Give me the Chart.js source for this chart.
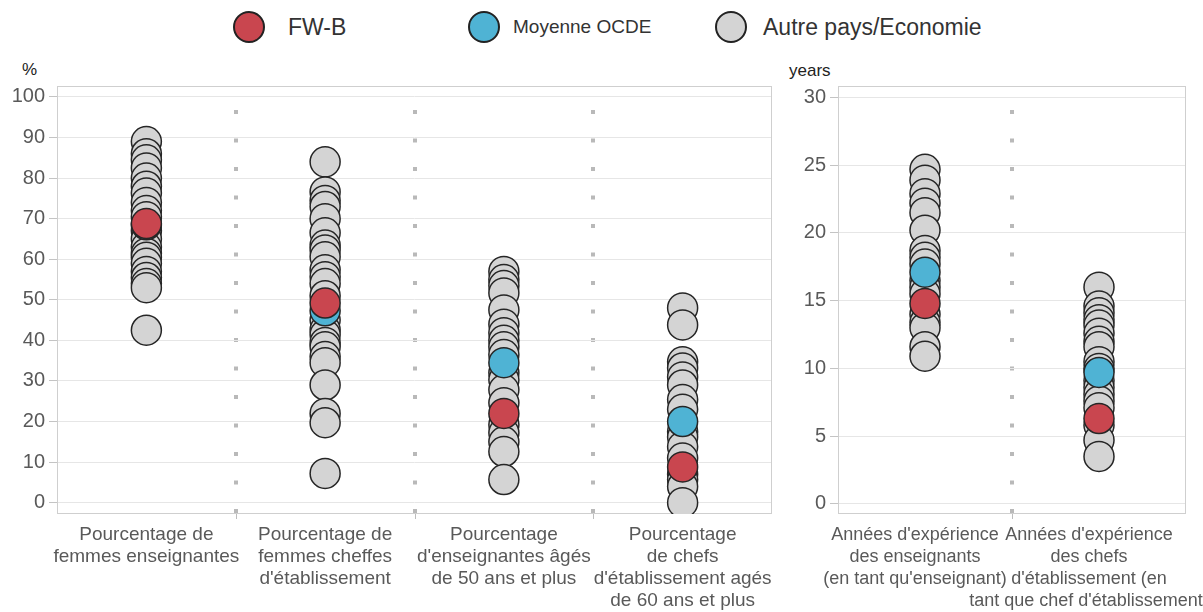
<!DOCTYPE html>
<html>
<head>
<meta charset="utf-8">
<script src="https://cdn.jsdelivr.net/npm/chart.js@4.4.1/dist/chart.umd.min.js"></script>
<style>
    body { margin: 0; background: #fff; width: 1203px; height: 612px; overflow: hidden; position: relative; font-family: 'Liberation Sans', Arial, sans-serif; }
    canvas { position: absolute; top: 0; }
    #leftChart { left: 0; }
    #rightChart { left: 780px; }
    .dot { position: absolute; top: 11px; width: 32px; height: 32px; border-radius: 50%; border: 2px solid #222; box-sizing: border-box; }
    .leg { position: absolute; top: 14px; line-height: 26px; color: #333; white-space: nowrap; }
    .unit { position: absolute; font-size: 17px; color: #222; }
</style>
</head>
<body>
<div class="dot" style="left:233px; background:#c9464f;"></div>
<div class="leg" style="left:288px; font-size:23px;">FW-B</div>
<div class="dot" style="left:468px; background:#4fb3d4;"></div>
<div class="leg" style="left:513px; font-size:19px;">Moyenne OCDE</div>
<div class="dot" style="left:715px; background:#d4d4d4;"></div>
<div class="leg" style="left:763px; font-size:23px;">Autre pays/Economie</div>

<div class="unit" style="left:22px; top:60px;">%</div>
<div class="unit" style="left:789px; top:61px;">years</div>

<canvas id="leftChart" width="790" height="612"></canvas>
<canvas id="rightChart" width="423" height="612"></canvas>

<script>
// Categories
const catsLeft = [
    ['Pourcentage de', 'femmes enseignantes'],
    ['Pourcentage de', 'femmes cheffes', "d'établissement"],
    ['Pourcentage', "d'enseignantes âgés", 'de 50 ans et plus'],
    ['Pourcentage', 'de chefs', "d'établissement agés", 'de 60 ans et plus']
];
const catsRight = [
    ["Années d'expérience", 'des enseignants', "(en tant qu'enseignant)"],
    ["Années d'expérience", 'des chefs', "d'établissement (en", "tant que chef d'établissement)"]
];
const yTicksLeft = [0, 10, 20, 30, 40, 50, 60, 70, 80, 90, 100];
const yTicksRight = [0, 5, 10, 15, 20, 25, 30];

// FW-B
const fwbLeft = [68.8, 49.2, 22, 8.8];
const fwbRight = [14.8, 6.3];

// Moyenne OCDE
const ocdeLeft = [68.5, 47.3, 34.5, 20];
const ocdeRight = [17.1, 9.7];

// Autre pays/Economie (one list per category)
const autresFemmesEns = [89, 86, 84.5, 82.5, 80, 78, 76.3, 74, 72, 70.5, 67, 65, 63, 61.5, 60.5, 59, 57, 55.5, 54, 53, 42.5];
const autresFemmesChefs = [84, 76.6, 74.5, 73, 70, 66.5, 63.5, 62.3, 60.6, 57.4, 55.7, 54, 51, 45, 42.6, 41.4, 39.5, 38.4, 36, 34.5, 29, 22, 19.7, 7.2];
const autresEns50 = [57, 55, 53.5, 51.7, 47.5, 44, 41.9, 40, 38.4, 36.5, 32, 30.3, 27.8, 24.6, 19.2, 17.2, 15, 12.6, 5.7];
const autresChefs60 = [48, 43.8, 34.7, 33.2, 31, 29, 25.4, 23, 17.5, 16.2, 13.8, 11, 7, 5.7, 4, 0];
const autresExpEns = [24.7, 23.9, 22.9, 22.2, 21.5, 20.2, 18.7, 18.2, 17.7, 16.5, 16, 15.5, 14, 13.4, 13, 11.6, 10.9];
const autresExpChefs = [16, 14.6, 14.1, 13.6, 13.2, 12.6, 12, 11.6, 10.5, 10, 9.1, 8.6, 8.1, 7.6, 7.1, 5.8, 4.7, 3.5];

const RED = '#c9464f';
const BLUE = '#4fb3d4';
const GREY = '#d4d4d4';
const FONT = "'Liberation Sans', Arial, sans-serif";

// light frame round the plot area + small ticks under the category separators
const framePlugin = {
    id: 'frame',
    beforeDatasetsDraw(chart) {
        const a = chart.chartArea;
        const ctx = chart.ctx;
        const x = chart.scales.x;
        ctx.save();
        ctx.strokeStyle = '#cfcfcf';
        ctx.lineWidth = 1;
        ctx.strokeRect(a.left + 0.5, a.top + 0.5, a.right - a.left - 1, a.bottom - a.top - 1);
        ctx.strokeStyle = '#bdbdbd';
        ctx.beginPath();
        for (let i = 1; i < x.ticks.length; i++) {
            const px = Math.round((x.getPixelForTick(i - 1) + x.getPixelForTick(i)) / 2) + 0.5;
            ctx.moveTo(px, a.bottom);
            ctx.lineTo(px, a.bottom + 5);
        }
        ctx.stroke();
        ctx.restore();
    }
};

function pointSet(label, data, color) {
    return {
        label: label,
        data: data,
        showLine: false,
        pointRadius: 15,
        pointBorderWidth: 1.5,
        pointBorderColor: '#262626',
        pointBackgroundColor: color,
        backgroundColor: color
    };
}

function makeChart(id, cats, fwb, ocde, autres, yTicks, yMin, yMax, yWidth, padRight, xFontSize, xLabelOffset) {
    const nCats = cats.length;
    const autrePts = [];
    autres.forEach((vals, i) => vals.forEach(v => autrePts.push({ x: cats[i], y: v })));

    return new Chart(document.getElementById(id), {
        type: 'line',
        data: {
            labels: cats,
            datasets: [
                pointSet('FW-B', cats.map((c, i) => ({ x: c, y: fwb[i] })), RED),
                pointSet('Moyenne OCDE', cats.map((c, i) => ({ x: c, y: ocde[i] })), BLUE),
                pointSet('Autre pays/Economie', autrePts, GREY)
            ]
        },
        options: {
            responsive: false,
            animation: false,
            events: [],
            layout: { padding: { top: 86, right: padRight, left: 0, bottom: 0 } },
            plugins: { legend: { display: false }, tooltip: { enabled: false } },
            scales: {
                x: {
                    type: 'category',
                    offset: true,
                    grid: {
                        offset: true,
                        color: (c) => (c.type === 'tick' && c.index > 0 && c.index < nCats) ? '#b9b9b9' : 'rgba(0,0,0,0)',
                        lineWidth: 4,
                        tickLength: 5,
                        tickColor: 'rgba(0,0,0,0)'
                    },
                    border: { display: false, dash: [4, 24.5], dashOffset: 4.5 },
                    ticks: {
                        autoSkip: false,
                        maxRotation: 0,
                        minRotation: 0,
                        padding: 5,
                        labelOffset: xLabelOffset,
                        color: '#595959',
                        font: { family: FONT, size: xFontSize, lineHeight: '22px' }
                    },
                    afterFit(s) { s.height = 98; s.paddingLeft = 0; s.paddingRight = 0; }
                },
                y: {
                    min: yMin,
                    max: yMax,
                    grid: { color: '#e6e6e6', lineWidth: 1, tickLength: 8, tickColor: '#c4c4c4' },
                    border: { display: false },
                    ticks: {
                        padding: 4,
                        color: '#595959',
                        font: { family: FONT, size: 20 }
                    },
                    afterBuildTicks(s) { s.ticks = yTicks.map(v => ({ value: v })); },
                    afterFit(s) { s.width = yWidth; s.paddingTop = 0; s.paddingBottom = 0; }
                }
            }
        },
        plugins: [framePlugin]
    });
}

makeChart('leftChart', catsLeft, fwbLeft, ocdeLeft,
    [autresFemmesEns, autresFemmesChefs, autresEns50, autresChefs60],
    yTicksLeft, -2.8, 102.7, 57, 18, 19, 0);

makeChart('rightChart', catsRight, fwbRight, ocdeRight,
    [autresExpEns, autresExpChefs],
    yTicksRight, -0.75, 30.85, 58, 17, 18, -10);
</script>
</body>
</html>
